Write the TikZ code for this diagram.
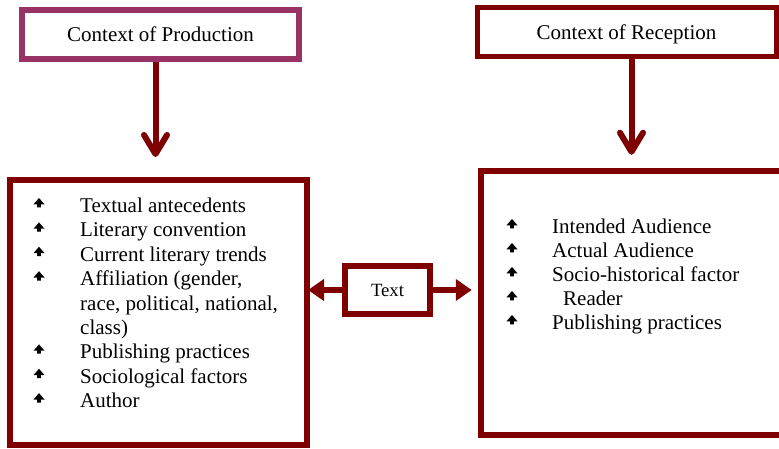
\documentclass[tikz,border=0pt]{standalone}
\usepackage{fontspec}
\setmainfont{Liberation Serif}
\usetikzlibrary{arrows.meta}
\definecolor{dred}{HTML}{7F0000}
\definecolor{plumc}{HTML}{993366}
\pgfdeclarelayer{bg}
\pgfsetlayers{bg,main}
\begin{document}
\begin{tikzpicture}[x=1pt,y=-1pt,
  box/.style={draw=dred, line width=6pt, fill=white, inner sep=0pt},
  titletext/.style={font=\fontsize{21}{24}\selectfont, text height=15pt, text depth=1pt},
  item/.style={anchor=base west, inner sep=0pt, font=\fontsize{21}{24.4}\selectfont, align=left},
  varr/.style={draw=dred, line width=6pt, -{Straight Barb[length=19pt,width=23pt,round]}},
  harr/.style={draw=dred, line width=6pt, -{Triangle[length=16pt,width=21pt]}},
  listbul/.pic={\fill[black] (0,-5.5) -- (5.5,0.8) -- (1.8,0.8) -- (1.8,3.8) -- (-1.8,3.8) -- (-1.8,0.8) -- (-5.5,0.8) -- cycle;}
]
\clip (0,0) rectangle (779,448);
\begin{pgfonlayer}{bg}
\fill[white] (0,0) rectangle (779,448);
\end{pgfonlayer}

% boxes
\node[box, draw=plumc, titletext, minimum width=277pt, minimum height=49pt] (prod) at (160.5,34.5) {Context of Production};
\node[box, line width=5pt, titletext, minimum width=299pt, minimum height=49pt] (rec) at (626.5,32) {Context of Reception};
\node[box, minimum width=296.5pt, minimum height=265pt] (left) at (158.25,312.5) {};
\node[box, line width=6.5pt, minimum width=304pt, minimum height=264pt] (right) at (633,303) {};
\node[box, font=\fontsize{18.7}{22}\selectfont, text height=13.5pt, text depth=0pt, minimum width=85pt, minimum height=48pt] (tb) at (387.5,290) {Text};

\begin{pgfonlayer}{bg}
% vertical arrows
\coordinate (a1) at ([xshift=-5pt]prod.south);
\coordinate (a1e) at (a1 |- left.north);
\draw[varr, shorten >=20pt] (a1) -- (a1e);
\coordinate (a2) at ([xshift=5pt]rec.south);
\coordinate (a2e) at (a2 |- right.north);
\draw[varr, shorten >=13pt] (a2) -- (a2e);
% horizontal arrows
\draw[harr, shorten >=-1.5pt] (tb.west) -- (left.east |- tb.west);
\draw[harr, shorten >=6pt] (tb.east) -- (right.west |- tb.east);
\end{pgfonlayer}

% left list
\node[item] (l1) at (80,212.5) {Textual antecedents};
\node[item] (l2) at (80,236.9) {Literary convention};
\node[item] (l3) at (80,261.3) {Current literary trends};
\node[item] (l4) at (80,285.7) {Affiliation (gender,};
\node[item] (l4b) at (80,310.1) {race, political, national,};
\node[item] (l4c) at (80,334.5) {class)};
\node[item] (l5) at (80,358.9) {Publishing practices};
\node[item] (l6) at (80,383.3) {Sociological factors};
\node[item] (l7) at (80,407.7) {Author};
\foreach \y in {203.5,227.9,252.3,276.7,349.9,374.3,398.7}
  \pic at (39,\y) {listbul};

% right list
\node[item] (r1) at (552,233.5) {Intended Audience};
\node[item] (r2) at (552,257.5) {Actual Audience};
\node[item] (r3) at (552,281.5) {Socio-historical factor};
\node[item] (r4) at (563,305.5) {Reader};
\node[item] (r5) at (552,329.5) {Publishing practices};
\foreach \y in {224.5,248.5,272.5,296.5,320.5}
  \pic at (512,\y) {listbul};
\end{tikzpicture}
\end{document}
